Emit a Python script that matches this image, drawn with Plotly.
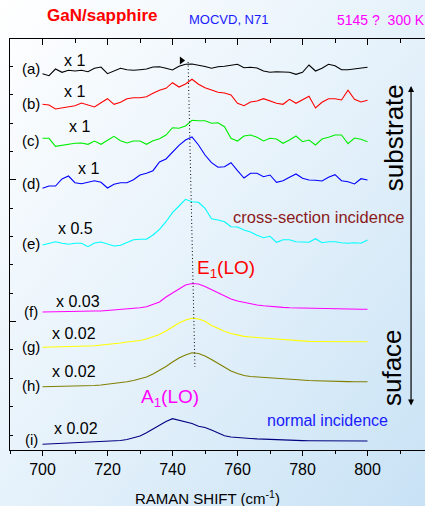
import base64
import plotly.graph_objects as go

# ---------------- data ----------------
raman_shift = list(range(700, 802, 2))  # cm^-1 sampling grid

spec_a = [1.3, -0.7, 6, 2.7, 4.7, 4, 4.7, 3.3, 6.7, 8, 1.3, 4, 6.7, 5.3, 4.7, 5.3, 6, 8, 8.3, 6.7, 5, 8.7, 10.7, 11, 10, 8.5,
          6.7, 8.3, 8.7, 10, 10.7, 7.3, 7.7, 7, 4, 2.7, 3.3, 3, 2.7, 0.7, 2.7, 10, 4, 6.7, 10.7, 9.3, 5.3, 5.3, 6, 7.3, 7.7]
spec_b = [5.7, 5, 1, 2.3, 3.3, 4.3, 7, 5, 3, 7.3, 11.3, 5.7, 7.7, 11.3, 12.3, 12.3, 13.3, 16.7, 19.7, 21.7, 27.3, 23, 26, 30.7, 25.7, 22.3,
          20, 17.7, 17, 15, 6.7, 4.3, 8, 9, 11.3, 9, 6.7, 5.7, 10.7, 6.7, 10, 13.7, 2, 7.7, 11.3, 11.3, 10, 19.7, 10.7, 8, 9.7]
spec_c = [11.7, 11.7, 3.7, 4.7, 6, 6.7, 7, 5.7, 9, 5.7, 9.7, 13.7, 9.3, 7, 9, 9, 5.7, 9.3, 11.3, 15, 22.3, 21.7, 24, 29.7, 29.3, 29.3,
          26.7, 27.3, 23.3, 11.7, 9, 14, 15, 12.7, 9, 11.7, 11, 6.7, 10, 14, 8.3, 10, 5, 11, 12.7, 15, 15, 6.3, 12, 10.7, 8.3]
spec_d = [1.7, 4, 4, 11, 14, 7.3, 6.3, 7.7, 9.3, 7.7, 2, 5.7, 7.3, 7.3, 10.3, 15, 16.7, 19.3, 28, 31, 37.7, 44.7, 50, 53, 45, 35,
          27.3, 22.7, 23.3, 27.3, 19.3, 12, 16.7, 16.7, 13.3, 15, 7.7, 9.3, 12.7, 16, 11.7, 10, 9.7, 9, 12.7, 15.3, 9.3, 8.3, 6, 11.3, 10]
spec_e = [5, 6.7, 8.3, 6.7, 5.7, 6.7, 6.7, 3.3, 7, 8, 6.3, 4, 4.7, 7.3, 10.3, 10.7, 10.7, 15, 20.7, 28.3, 37.3, 44, 50.7, 48.3, 47.7, 41.7,
          31.3, 30, 28.3, 23.3, 23, 20, 18, 14.7, 12.3, 13.7, 7.7, 10.3, 10.3, 8.3, 8.3, 7.7, 11.3, 7.3, 8.3, 8.3, 7.3, 6.7, 7.3, 6.7, 10]
spec_f = [3, 3.2, 3.4, 3.6, 3.7, 3.8, 3.9, 4, 4, 4, 4.5, 5, 5.5, 6, 6.3, 7.2, 8.3, 10.5, 13, 18, 22, 26.5, 30, 31.5, 31, 28.5,
          25.5, 22, 19, 16, 14, 12.5, 11, 10, 9.2, 8.5, 8, 7.6, 7.3, 7.1, 7, 6.8, 6.6, 6.4, 6.2, 6, 5.8, 5.7, 5.7, 5.7, 5.7]
spec_g = [2.7, 2.8, 3, 3.2, 3.4, 3.6, 3.8, 4, 4.3, 4.8, 5.5, 6.4, 7, 8, 8.7, 9.5, 11, 13, 15.5, 19, 23, 27, 30, 31.7, 31, 28.8,
          24.5, 21.5, 18.8, 16.5, 14.8, 13.6, 13, 12.3, 11.8, 11.5, 11, 10.5, 9.6, 9, 8.8, 8.6, 8.5, 8.4, 8.3, 8.3, 8.3, 8.3, 8.3, 8.3, 8.3]
spec_h = [3.3, 3.4, 3.5, 3.6, 3.8, 4, 4.2, 4.3, 4.5, 5, 5.7, 6.5, 7.5, 8.3, 9.5, 11, 13, 16, 19.5, 23.5, 28, 32, 35, 37.3, 36.5, 34,
          30.5, 26.5, 22.5, 19, 16.5, 14.5, 13.5, 13, 12.5, 12.2, 11.8, 11.5, 11, 10.5, 10, 9.5, 9.3, 9, 8.8, 8.6, 8.5, 8.4, 8.3, 8.3, 8.3]
spec_i = [0.7, 1, 1.2, 1.5, 1.8, 2.2, 2.6, 2.8, 3, 3.1, 3.3, 3.8, 4.5, 5.5, 7, 9, 12.3, 16, 19.8, 23.5, 26.3, 24.8, 23.7, 21.5, 18.8, 17.5,
          15, 12, 9.3, 8, 7.3, 6.8, 6.5, 6.1, 5.8, 5.2, 5, 4.8, 4.6, 4.5, 4.4, 4.3, 4.3, 4.2, 4.2, 4.1, 4.1, 4, 4, 4, 4]

spectra = [spec_a, spec_b, spec_c, spec_d, spec_e, spec_f, spec_g, spec_h, spec_i]
curve_labels = ["(a)", "(b)", "(c)", "(d)", "(e)", "(f)", "(g)", "(h)", "(i)"]
scale_labels = ["x 1", "x 1", "x 1", "x 1", "x 0.5", "x 0.03", "x 0.02", "x 0.02", "x 0.02"]
offsets = [375, 340, 300, 260, 200, 135, 100, 60, 5]
colors = ["#000000", "#ff0000", "#00ee00", "#0000ff", "#00ffff", "#ff00ff", "#ffff00", "#808000", "#000080"]

x_ticks = [700, 720, 740, 760, 780, 800]

# label positions (x in cm^-1, y in plot units)
curve_label_y = [381.7, 346.7, 310, 266.7, 206.7, 138.3, 103.3, 65, 10.7]
scale_label_xy = [(709.7, 390), (709.7, 358.3), (711.5, 324), (714, 281.7), (710, 221.7),
                  (710.9, 148.3), (709.7, 116.7), (709.7, 78.3), (710.3, 21.7)]

FONT = "Liberation Sans, Arial, sans-serif"

W, H = 425, 506
ml, mr, mt, mb = 10, 0, 39, 56
pw, ph = W - ml - mr, H - mt - mb


def px_x(px):
    return (px - ml) / pw


def px_y(py):
    return (H - mb - py) / ph


fig = go.Figure()

for ys, off, col in zip(spectra, offsets, colors):
    fig.add_trace(go.Scatter(x=raman_shift, y=[off + v for v in ys], mode="lines",
                             line=dict(color=col, width=1.1), hoverinfo="skip", showlegend=False))

# peak marker
fig.add_trace(go.Scatter(x=[742.8], y=[389.5], mode="markers",
                         marker=dict(symbol="triangle-right", size=7, color="black"),
                         hoverinfo="skip", showlegend=False))
# dummy trace for top axis
fig.add_trace(go.Scatter(x=[700], y=[0], xaxis="x2", mode="markers", marker=dict(opacity=0),
                         hoverinfo="skip", showlegend=False))

# dotted line through E1(LO)
fig.add_shape(type="line", x0=744.8, y0=388, x1=746.9, y1=83,
              line=dict(color="black", width=1, dash="1px,2.5px"))

ann = []
for lab, y in zip(curve_labels, curve_label_y):
    ann.append(dict(x=696.5, y=y, text=lab, showarrow=False, font=dict(size=15, color="black", family=FONT)))
for lab, (x, y) in zip(scale_labels, scale_label_xy):
    ann.append(dict(x=x, y=y, text=lab, showarrow=False, font=dict(size=16, color="black", family=FONT)))

ann += [
    dict(x=px_x(102), y=px_y(16), xref="paper", yref="paper", xanchor="center", yanchor="middle",
         text="<b>GaN/sapphire</b>", showarrow=False, font=dict(size=17, color="#ff0000", family=FONT)),
    dict(x=px_x(228), y=px_y(20), xref="paper", yref="paper", xanchor="center", yanchor="middle",
         text="MOCVD, N71", showarrow=False, font=dict(size=13, color="#1a1aff", family=FONT)),
    dict(x=px_x(335), y=px_y(20), xref="paper", yref="paper", xanchor="left", yanchor="middle",
         text="5145 ?\u00a0 300 K", showarrow=False, font=dict(size=14, color="#ff00ff", family=FONT)),
    dict(x=756.5, y=180.7, text="E<sub>1</sub>(LO)", showarrow=False, font=dict(size=19, color="#ff0000", family=FONT)),
    dict(x=739.2, y=51.7, text="A<sub>1</sub>(LO)", showarrow=False, font=dict(size=19, color="#ff00ff", family=FONT)),
    dict(x=785.2, y=233.3, text="cross-section incidence", showarrow=False,
         font=dict(size=16.5, color="#8b1a1a", family=FONT)),
    dict(x=787.7, y=29.3, text="normal incidence", showarrow=False, font=dict(size=16, color="#1a1aff", family=FONT)),
    dict(x=808.2, y=312, text="substrate", showarrow=False, textangle=-90,
         font=dict(size=26, color="black", family=FONT)),
    dict(x=807.4, y=82.5, text="suface", showarrow=False, textangle=-90,
         font=dict(size=26, color="black", family=FONT)),
    dict(x=813.4, y=364, ax=813.4, ay=43, xref="x", yref="y", axref="x", ayref="y", text="",
         showarrow=True, arrowhead=2, startarrowhead=2, arrowside="end+start", arrowsize=1,
         arrowwidth=1.2, arrowcolor="black"),
    dict(x=px_x(207), y=px_y(497), xref="paper", yref="paper", xanchor="center", yanchor="middle",
         text="RAMAN SHIFT (cm<sup>-1</sup>)", showarrow=False, font=dict(size=15, color="black", family=FONT)),
]

# background gradient
svg = (f"<svg xmlns='http://www.w3.org/2000/svg' width='{W}' height='{H}'>"
       "<defs><linearGradient id='g' x1='0' y1='0' x2='1' y2='1'>"
       "<stop offset='0' stop-color='#ffffff'/><stop offset='0.5' stop-color='#e6f2fb'/>"
       "<stop offset='1' stop-color='#c8e2f5'/></linearGradient></defs>"
       f"<rect width='{W}' height='{H}' fill='url(#g)'/></svg>")
src = "data:image/svg+xml;base64," + base64.b64encode(svg.encode()).decode()

xr = [690, 690 + pw / 3.25]

fig.update_layout(
    width=W, height=H,
    margin=dict(l=ml, r=mr, t=mt, b=mb),
    paper_bgcolor="white", plot_bgcolor="rgba(0,0,0,0)",
    annotations=ann,
    images=[dict(source=src, xref="paper", yref="paper", x=-ml / pw, y=1 + mt / ph,
                 sizex=W / pw, sizey=H / ph, xanchor="left", yanchor="top",
                 sizing="stretch", layer="below")],
    xaxis=dict(range=xr, showgrid=False, zeroline=False, showline=True, linecolor="black", linewidth=1,
               tickmode="array", tickvals=x_ticks, ticktext=[str(v) for v in x_ticks],
               ticks="outside", ticklen=5, tickcolor="black",
               minor=dict(dtick=10, tick0=700, ticks="outside", ticklen=3, tickcolor="black"),
               tickfont=dict(size=16, color="black", family=FONT)),
    xaxis2=dict(range=xr, overlaying="x", side="top", showgrid=False, zeroline=False, showline=True,
                linecolor="black", linewidth=1, tickmode="linear", tick0=700, dtick=20,
                ticks="inside", ticklen=6, tickcolor="black", showticklabels=False,
                minor=dict(dtick=10, tick0=700, ticks="inside", ticklen=4, tickcolor="black")),
    yaxis=dict(range=[0, ph], showgrid=False, zeroline=False, showline=True, linecolor="black", linewidth=1,
               showticklabels=False, tickmode="linear", tick0=128.3, dtick=141.75,
               ticks="inside", ticklen=6, tickcolor="black",
               minor=dict(tick0=15, dtick=28.35, ticks="inside", ticklen=3, tickcolor="black")),
    font=dict(family=FONT),
)

fig.write_html("out.html")
